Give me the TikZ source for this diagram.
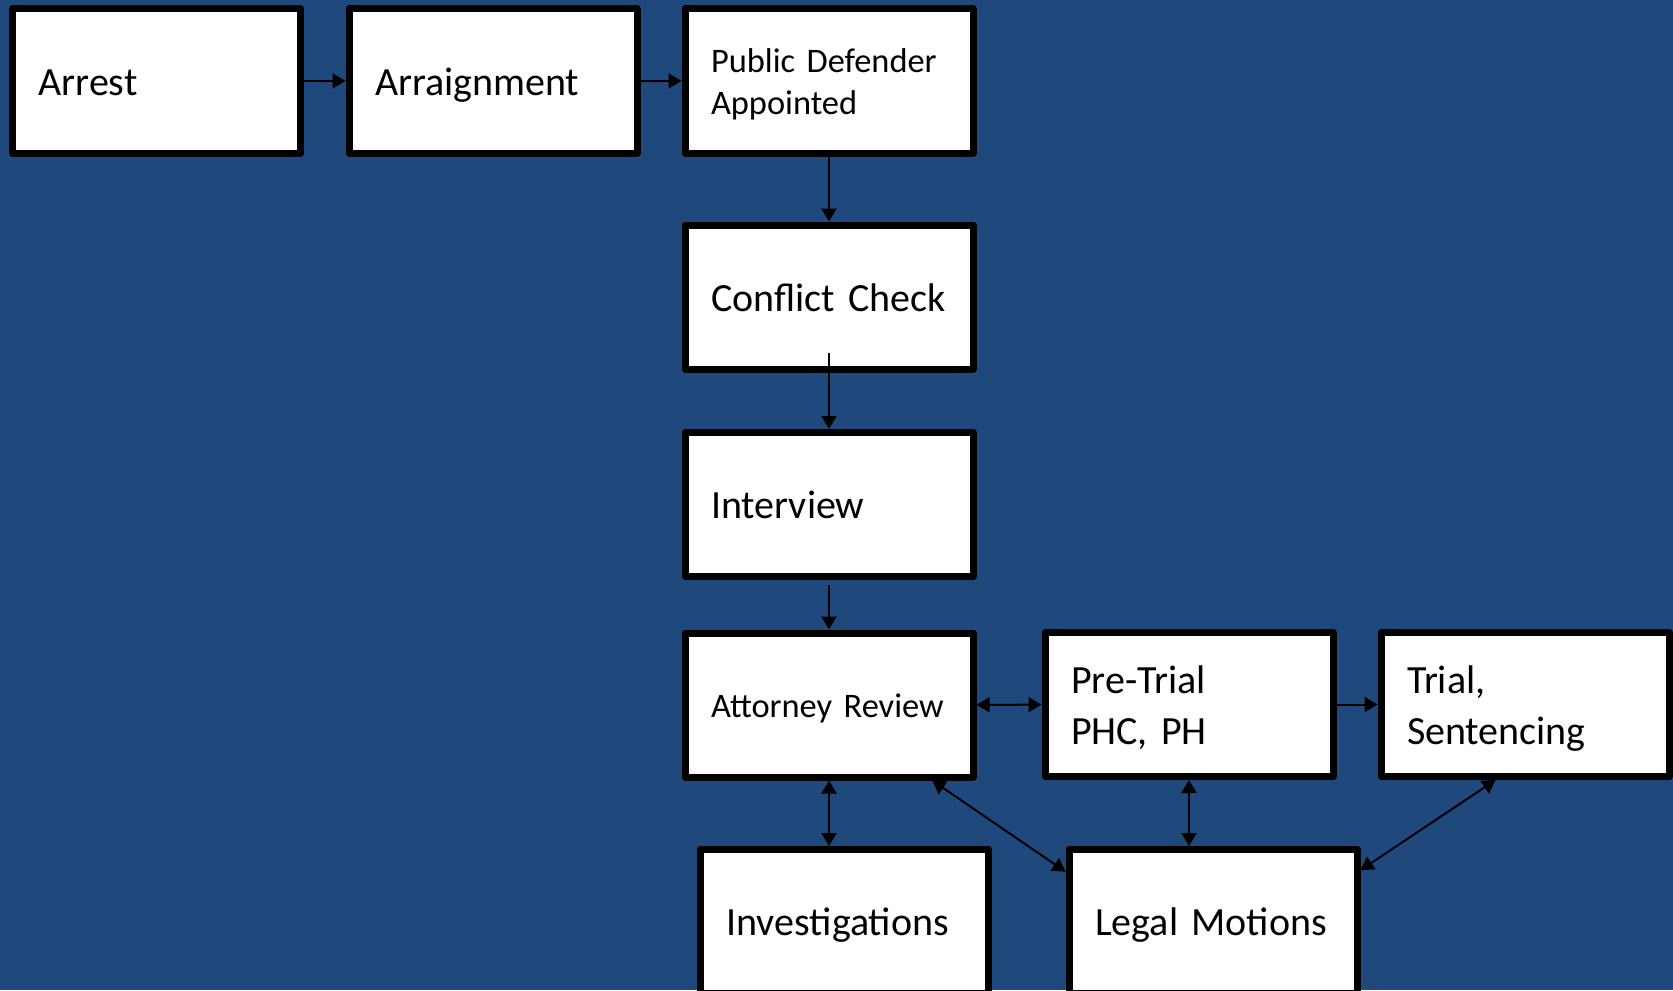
\documentclass[tikz,border=0pt]{standalone}
\usepackage{fontspec}
\setmainfont{Carlito}[WordSpace=0.85]
\usetikzlibrary{arrows.meta,calc}
\definecolor{bg}{RGB}{31,73,125}
\newcommand{\tstrut}{\rule[-0.25em]{0pt}{1.22em}}
\begin{document}
\begin{tikzpicture}[x=0.5pt,y=-0.5pt,
 box/.style={draw=black, fill=white, line width=3.5pt, line join=round, minimum width=144pt, minimum height=72pt, text width=118pt, inner xsep=13pt, inner ysep=0pt, align=left, font=\fontsize{20}{24.2}\selectfont, execute at begin node=\tstrut, execute at end node=\tstrut},
 smalltext/.style={font=\fontsize{17.2}{21.3}\selectfont},
 conn/.style={line width=1pt, -{Triangle[length=6.5pt,width=7.5pt]}},
 both/.style={line width=1pt, {Triangle[length=6.5pt,width=7.5pt]}-{Triangle[length=6.5pt,width=7.5pt]}}]
\clip (0,0) rectangle (1673,990);
\useasboundingbox (0,0) rectangle (1673,990);
\fill[bg] (0,0) rectangle (1673,990);
\node[box] (arrest) at (156.5,81) {Arrest};
\node[box] (arraign) at (493,81) {Arraignment};
\node[box, smalltext] (pd) at (829,81) {Public Defender\\Appointed};
\node[box] (conflict) at (829,297) {Conflict Check};
\node[box] (interview) at (829,504.5) {Interview};
\node[box, smalltext] (ar) at (829,705) {Attorney Review};
\node[box] (pt) at (1189,704.5) {Pre-Trial\\PHC, PH};
\node[box] (trial) at (1525,704.5) {Trial,\\Sentencing};
\node[box] (inv) at (844.5,921.5) {Investigations};
\node[box] (lm) at (1213,921.5) {Legal Motions};
\coordinate (cstart) at (829,353);
\draw[conn] (arrest) -- (arraign);
\draw[conn] (arraign) -- (pd);
\draw[conn] (pd) -- (conflict);
\draw[conn] (cstart) -- (interview.north);
\draw[conn, shorten <=2.5pt] (interview) -- (ar);
\draw[both] (ar) -- (pt);
\draw[conn] (pt) -- (trial);
\draw[both] (ar.south) -- (ar.south |- inv.north);
\draw[both] ($(ar.south west)!0.85!(ar.south east)$) -- ($(lm.north west)!0.17!(lm.south west)$);
\draw[both] (pt.south) -- (pt.south |- lm.north);
\draw[both] ($(trial.south west)!0.40!(trial.south east)$) -- ($(lm.north east)!0.16!(lm.south east)$);
\end{tikzpicture}
\end{document}
